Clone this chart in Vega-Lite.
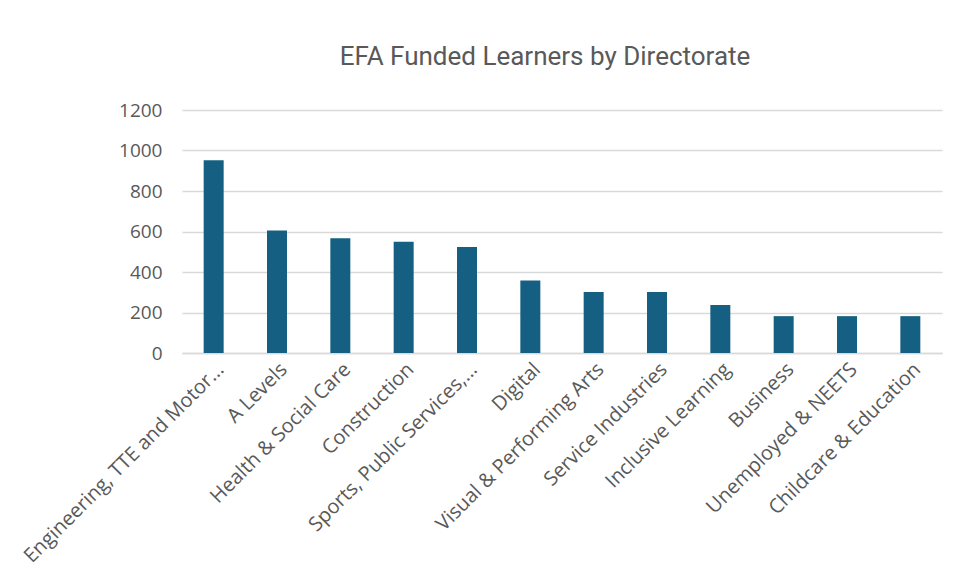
{
  "$schema": "https://vega.github.io/schema/vega-lite/v6.json",
  "width": 760,
  "height": 243,
  "autosize": {"type": "none"},
  "padding": {"left": 182, "top": 110, "right": 17, "bottom": 229},
  "background": "white",
  "title": {
    "text": "EFA Funded Learners by Directorate",
    "fontSize": 26,
    "font": "Roboto",
    "fontWeight": "normal",
    "color": "#595959",
    "frame": "group",
    "offset": 40,
    "dx": -17,
    "dy": 35,
    "baseline": "bottom"
  },
  "data": {
    "values": [
      {"directorate": "Engineering, TTE and Motor...", "learners": 952},
      {"directorate": "A Levels", "learners": 605},
      {"directorate": "Health & Social Care", "learners": 567},
      {"directorate": "Construction", "learners": 549},
      {"directorate": "Sports, Public Services,...", "learners": 523},
      {"directorate": "Digital", "learners": 358},
      {"directorate": "Visual & Performing Arts", "learners": 301},
      {"directorate": "Service Industries", "learners": 301},
      {"directorate": "Inclusive Learning", "learners": 237},
      {"directorate": "Business", "learners": 182},
      {"directorate": "Unemployed & NEETS", "learners": 182},
      {"directorate": "Childcare & Education", "learners": 182}
    ]
  },
  "mark": {"type": "bar", "color": "#156082", "width": 20},
  "encoding": {
    "x": {
      "field": "directorate",
      "type": "nominal",
      "sort": null,
      "scale": {"paddingInner": 0, "paddingOuter": 0},
      "axis": {
        "title": null,
        "labelAngle": -45,
        "labelFontSize": 20,
        "labelFont": "Open Sans",
        "labelColor": "#595959",
        "ticks": false,
        "domainColor": "#d9d9d9",
        "domainWidth": 1.5,
        "labelPadding": 6,
        "labelLimit": 400
      }
    },
    "y": {
      "field": "learners",
      "type": "quantitative",
      "scale": {"domain": [0, 1200]},
      "axis": {
        "title": null,
        "values": [0, 200, 400, 600, 800, 1000, 1200],
        "format": "d",
        "ticks": false,
        "domain": false,
        "gridColor": "#d9d9d9",
        "gridWidth": 1.5,
        "labelFontSize": 19,
        "labelFont": "Open Sans",
        "labelColor": "#595959",
        "labelPadding": 20
      }
    }
  },
  "config": {"view": {"stroke": null}}
}
